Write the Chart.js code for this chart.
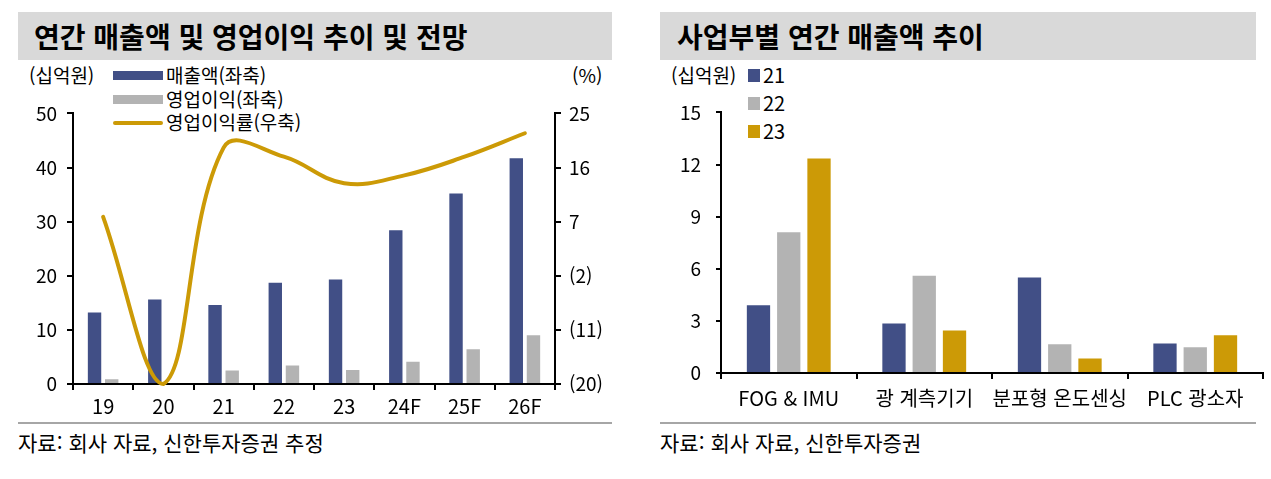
<!DOCTYPE html>
<html lang="ko">
<head>
<meta charset="UTF-8">
<title>연간 매출액 및 영업이익 추이</title>
<script src="https://cdn.jsdelivr.net/npm/chart.js"></script>
<style>
    body { margin: 0; background: #fff; font-family: "Noto Sans CJK KR", sans-serif; color: #000; }
    .box { position: absolute; }
    .title { background: #d9d9d9; height: 48px; top: 12px; font-size: 28px; font-weight: 700; line-height: 48px; box-sizing: border-box; }
    .txt { position: absolute; font-size: 19px; line-height: 22px; white-space: nowrap; }
    .src { font-size: 21px; }
    .rule { position: absolute; top: 422px; height: 2px; background: #a6a6a6; }
    .sw { position: absolute; }
</style>
</head>
<body>
<!-- left panel -->
<div class="box title" style="left:18px; width:594px; padding-left:16px;">연간 매출액 및 영업이익 추이 및 전망</div>
<div class="txt" style="left:29px; top:64px;">(십억원)</div>
<div class="txt" style="left:572px; top:64px;">(%)</div>
<div class="sw" style="left:113px; top:71px; width:50px; height:9px; background:#414f86;"></div>
<div class="txt" style="left:166px; top:64px;">매출액(좌축)</div>
<div class="sw" style="left:113px; top:95px; width:50px; height:9px; background:#b3b3b3;"></div>
<div class="txt" style="left:166px; top:88px;">영업이익(좌축)</div>
<div class="sw" style="left:113px; top:121px; width:50px; height:4px; border-radius:2px; background:#cc9a06;"></div>
<div class="txt" style="left:166px; top:111px;">영업이익률(우축)</div>
<canvas id="left" width="640" height="333" style="position:absolute; left:0; top:92px;"></canvas>
<div class="rule" style="left:18px; width:594px;"></div>
<div class="txt src" style="left:18px; top:431px;">자료: 회사 자료, 신한투자증권 추정</div>

<!-- right panel -->
<div class="box title" style="left:660px; width:596px; padding-left:17px;">사업부별 연간 매출액 추이</div>
<div class="txt" style="left:671px; top:64px;">(십억원)</div>
<div class="sw" style="left:748px; top:69px; width:12px; height:13px; background:#414f86;"></div>
<div class="txt" style="left:763px; top:64px; font-size:20px;">21</div>
<div class="sw" style="left:748px; top:97px; width:12px; height:13px; background:#b3b3b3;"></div>
<div class="txt" style="left:763px; top:92px; font-size:20px;">22</div>
<div class="sw" style="left:748px; top:125px; width:12px; height:13px; background:#cc9a06;"></div>
<div class="txt" style="left:763px; top:120px; font-size:20px;">23</div>
<canvas id="right" width="631" height="339" style="position:absolute; left:640px; top:86px;"></canvas>
<div class="rule" style="left:660px; width:596px;"></div>
<div class="txt src" style="left:660px; top:431px;">자료: 회사 자료, 신한투자증권</div>

<script>
    // left chart data
    const years = ['19', '20', '21', '22', '23', '24F', '25F', '26F'];
    const sales = [13.2, 15.6, 14.6, 18.7, 19.3, 28.4, 35.2, 41.7];
    const opProfit = [0.9, -0.3, 2.5, 3.4, 2.6, 4.1, 6.4, 9.0];
    const opMargin = [7.8, -20.0, 19.3, 17.8, 13.4, 14.7, 17.8, 21.7];

    // right chart data
    const segments = ['FOG & IMU', '광 계측기기', '분포형 온도센싱', 'PLC 광소자'];
    const seg21 = [3.9, 2.85, 5.5, 1.7];
    const seg22 = [8.1, 5.6, 1.65, 1.48];
    const seg23 = [12.35, 2.45, 0.83, 2.18];

    const NAVY = '#414f86';
    const GRAY = '#b3b3b3';
    const GOLD = '#cc9a06';
    const FONT = '"Noto Sans CJK KR", sans-serif';

    function axisStyle(tickLen, pad, size) {
        return {
            border: { color: '#000', width: 2 },
            grid: { drawOnChartArea: false, drawTicks: true, tickLength: tickLen, color: '#000', lineWidth: 2 },
            ticks: { color: '#000', padding: pad, font: { family: FONT, size: size } }
        };
    }

    function paren(v) {
        return v < 0 ? '(' + (-v) + ')' : String(v);
    }

    const xL = axisStyle(6, 4, 20);
    xL.afterFit = s => { s.height = 41; };
    const yL = axisStyle(6, 10, 19);
    Object.assign(yL, { position: 'left', min: 0, max: 50, afterFit: s => { s.width = 73; } });
    yL.ticks.stepSize = 10;
    const y1L = axisStyle(6, 8, 19);
    Object.assign(y1L, { position: 'right', min: -20, max: 25, afterFit: s => { s.width = 85; } });
    y1L.ticks.stepSize = 9;
    y1L.ticks.callback = paren;

    new Chart(document.getElementById('left').getContext('2d'), {
        data: {
            labels: years,
            datasets: [
                {
                    type: 'line', label: '영업이익률(우축)', data: opMargin, yAxisID: 'y1',
                    borderColor: GOLD, borderWidth: 4, tension: 0.4, pointRadius: 0,
                    fill: false, clip: false, order: 0, borderCapStyle: 'round'
                },
                {
                    type: 'bar', label: '매출액(좌축)', data: sales, yAxisID: 'y',
                    backgroundColor: NAVY, categoryPercentage: 0.57, barPercentage: 0.78, order: 1
                },
                {
                    type: 'bar', label: '영업이익(좌축)', data: opProfit, yAxisID: 'y',
                    backgroundColor: GRAY, categoryPercentage: 0.57, barPercentage: 0.78, order: 1
                }
            ]
        },
        options: {
            responsive: false,
            animation: false,
            layout: { padding: { top: 15, left: 0, right: 0, bottom: 0 } },
            plugins: { legend: { display: false }, tooltip: { enabled: false } },
            scales: { x: xL, y: yL, y1: y1L }
        }
    });

    const xR = axisStyle(6, 7, 20);
    xR.afterFit = s => { s.height = 52; };
    xR.ticks.maxRotation = 0;
    xR.ticks.minRotation = 0;
    xR.ticks.autoSkip = false;
    const yR = axisStyle(5, 15, 19);
    Object.assign(yR, { min: 0, max: 15, afterFit: s => { s.width = 81; } });
    yR.ticks.stepSize = 3;

    new Chart(document.getElementById('right').getContext('2d'), {
        type: 'bar',
        data: {
            labels: segments,
            datasets: [
                { label: '21', data: seg21, backgroundColor: NAVY },
                { label: '22', data: seg22, backgroundColor: GRAY },
                { label: '23', data: seg23, backgroundColor: GOLD }
            ]
        },
        options: {
            responsive: false,
            animation: false,
            datasets: { bar: { categoryPercentage: 0.67, barPercentage: 0.77 } },
            layout: { padding: { top: 8, left: 0, right: 8, bottom: 0 } },
            plugins: { legend: { display: false }, tooltip: { enabled: false } },
            scales: { x: xR, y: yR }
        }
    });
</script>
</body>
</html>
